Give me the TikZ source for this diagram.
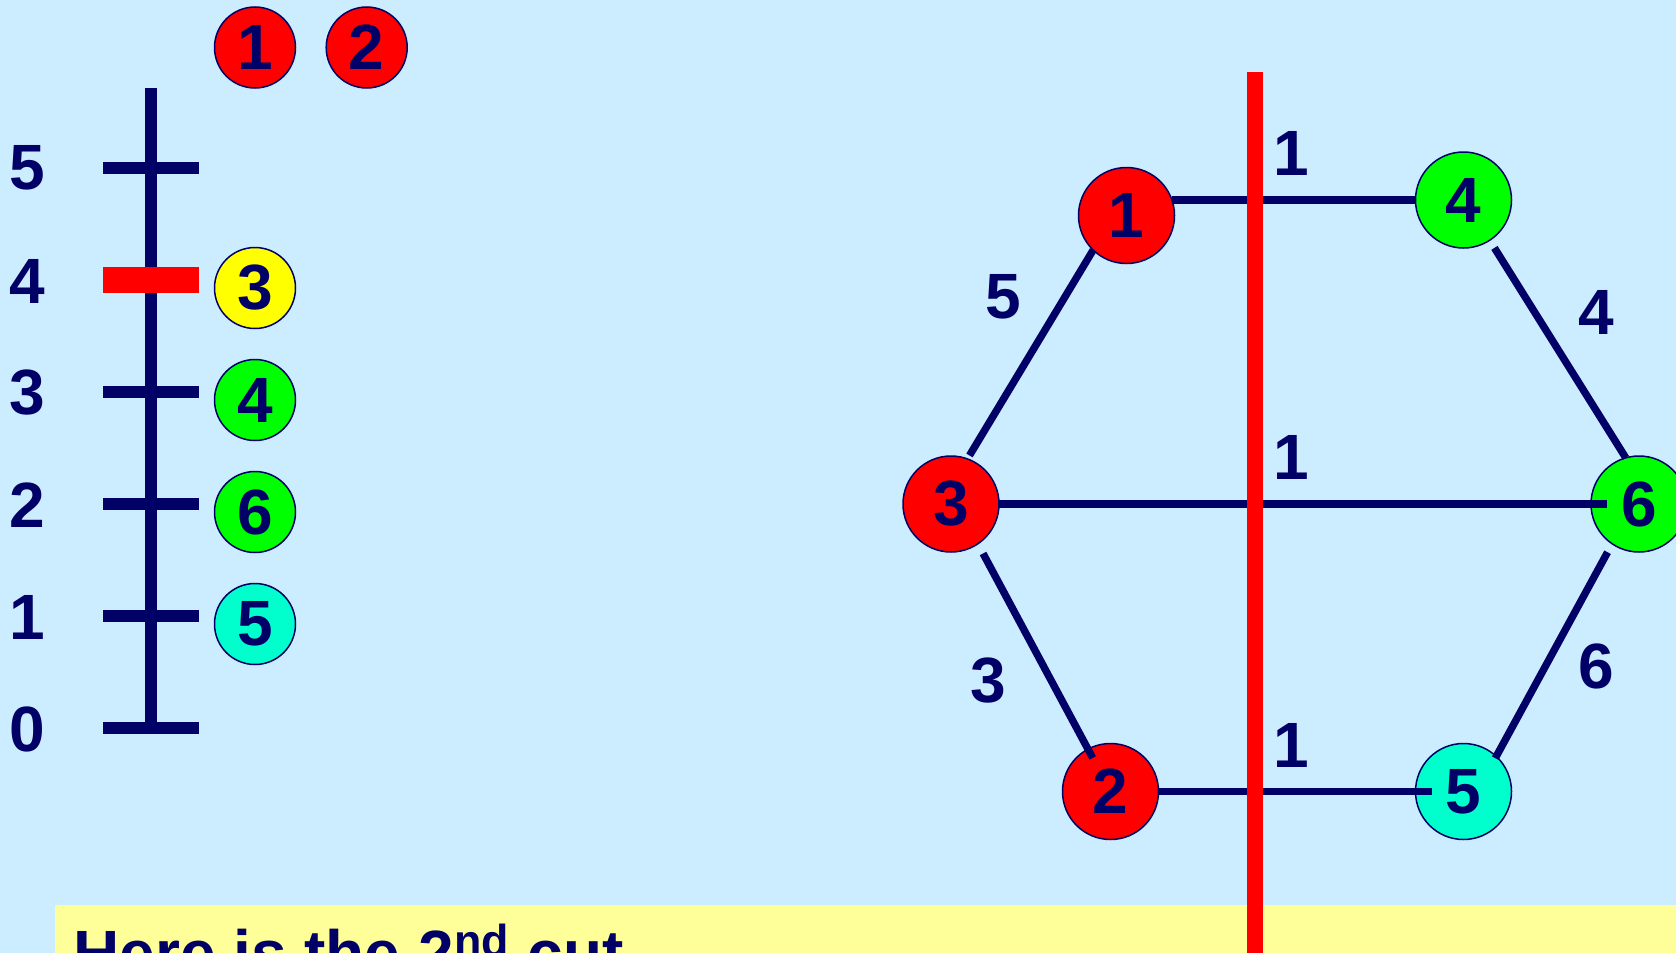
\documentclass[tikz,border=0pt]{standalone}
\usepackage{fontspec}
\setmainfont{Liberation Sans}
\definecolor{bg}{HTML}{CCECFF}
\definecolor{navy}{HTML}{000066}
\definecolor{pale}{HTML}{FFFF99}
\definecolor{aqua}{HTML}{00FFCC}
\definecolor{vgreen}{HTML}{00FF00}
\definecolor{vred}{HTML}{FF0000}
\definecolor{vyellow}{HTML}{FFFF00}
\tikzset{
  nd/.style={circle, draw=navy, line width=0.75pt, inner sep=0pt, outer sep=0pt,
             font=\bfseries\fontsize{32}{32}\selectfont, text=navy},
  smallnd/.style={nd, minimum size=40.5pt},
  bignd/.style={nd, minimum size=48pt},
  edge/.style={draw=navy, line width=3.7pt},
  lbl/.style={font=\bfseries\fontsize{32}{32}\selectfont, text=navy, inner sep=0pt},
  scaleln/.style={draw=navy, line width=6pt},
}
\begin{document}
\begin{tikzpicture}[x=0.5pt,y=-0.5pt]
\useasboundingbox (0,0) rectangle (1676,953);
\fill[bg] (0,0) rectangle (1676,953);
\fill[pale] (55,905) rectangle (1676,953);

% left scale
\draw[scaleln] (151,88) -- (151,728);
\foreach \yy in {168,392,504,616,728} {\draw[scaleln] (103,\yy) -- (199,\yy);}
\fill[vred] (103,267) rectangle (199,293);
\node[lbl] (s5) at (27,168) {5};
\node[lbl] (s4) at (27,281) {4};
\node[lbl] (s3) at (27,393) {3};
\node[lbl] (s2) at (27,505) {2};
\node[lbl] (s1) at (27,617) {1};
\node[lbl] (s0) at (27,729) {0};

% left circles
\node[smallnd, fill=vred] (a1) at (255,47.5) {1};
\node[smallnd, fill=vred] (a2) at (366.7,47.5) {2};
\node[smallnd, fill=vyellow] (a3) at (255,288) {3};
\node[smallnd, fill=vgreen] (a4) at (255,400) {4};
\node[smallnd, fill=vgreen] (a6) at (255,512) {6};
\node[smallnd, fill=aqua] (a5) at (255,624) {5};

% graph nodes
\node[bignd, fill=vred] (n1) at (1126.5,215.5) {1};
\node[bignd, fill=vgreen] (n4) at (1463.5,200) {4};
\node[bignd, fill=vred] (n3) at (951,504) {3};
\node[bignd, fill=vgreen] (n6) at (1639,504) {6};
\node[bignd, fill=vred] (n2) at (1110.5,791.5) {2};
\node[bignd, fill=aqua] (n5) at (1463.5,791.5) {5};

% edges
\draw[edge] (n4.west -| n1.18) -- (n4.west);
\draw[edge, shorten >=2pt] (n1.226) -- (n3.70);
\draw[edge] (n3.east) -- ([xshift=8pt]n6.west);
\draw[edge, shorten <=4.5pt] (n4.303) -- (n6.106);
\draw[edge, shorten <=5.5pt, shorten >=-5pt] (n3.304) -- (n2.118);
\draw[edge, shorten <=4.8pt, shorten >=-1pt] (n6.236) -- (n5.47);
\draw[edge] (n2.east) -- ([xshift=8pt]n5.west);

% edge weights
\node[lbl] (w14) at (1291,153) {1};
\node[lbl] (w13) at (1003,297) {5};
\node[lbl] (w46) at (1596,312) {4};
\node[lbl] (w36) at (1291,457) {1};
\node[lbl] (w32) at (988,681) {3};
\node[lbl] (w65) at (1596,666) {6};
\node[lbl] (w25) at (1291,745) {1};

% the cut
\coordinate (cutT) at (1255,72);
\coordinate (cutB) at (1255,953);
\draw[vred, line width=8pt] (cutT) -- (cutB);

% caption
\node[lbl, anchor=base west] (txt) at (73,975) {Here is the 2\textsuperscript{nd} cut};
\end{tikzpicture}
\end{document}
